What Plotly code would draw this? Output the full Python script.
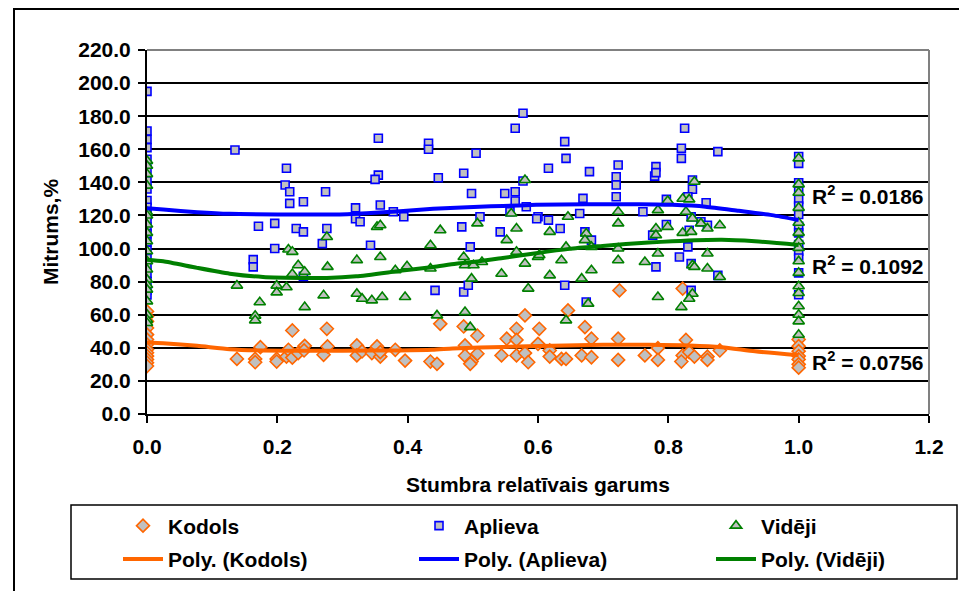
import plotly.graph_objects as go

# ---------------- data ----------------
kodols_x = [0.0]*13 + [
    .138, .166, .166, .174, .199, .199, .214, .217, .223, .223, .232, .242, .241,
    .276, .271, .277, .322, .322, .330, .345, .353, .358, .358, .381, .396, .435,
    .445, .450, .486, .488, .488, .498, .496, .507, .507, .544, .552, .567, .567,
    .567, .580, .580, .585, .600, .602, .618, .618, .636, .643, .646, .667, .672,
    .682, .682, .723, .723, .725, .764, .784, .784, .822, .827, .822, .820, .832,
    .840, .860, .860, .879] + [1.0]*7
kodols_y = [62, 59, 56, 52, 48, 45, 42, 39, 37, 35, 33, 31, 29] + [
    33.3, 33.3, 31.3, 40.4, 33.3, 31.7, 34.7, 38.8, 50.5, 34.1, 36.8, 41.2, 38.4,
    51.5, 35.8, 40.8, 41.4, 35.4, 37.8, 36.8, 40.8, 34.7, 37.4, 38.8, 32.3, 31.7,
    30.3, 54.5, 52.9, 41.4, 35.2, 31.7, 30.3, 47.3, 36.4, 35.4, 45.5, 51.5, 44.8,
    35.4, 59.6, 36.8, 31.3, 42.4, 51.5, 38.4, 34.7, 33.3, 33.3, 62.6, 35.4, 52.5,
    45.5, 34.3, 45.5, 32.7, 74.7, 35.4, 39.8, 32.7, 75.8, 44.8, 35.4, 31.7, 37.4,
    34.7, 34.7, 32.7, 38.4] + [45, 41, 38, 35, 33, 30, 28]

aplieva_x = [0.0]*22 + [
    .135, .214, .212, .219, .219, .240, .171, .196, .229, .240, .196, .163, .163,
    .240, .274, .276, .269, .355, .355, .350, .358, .320, .320, .327, .343, .378,
    .394, .432, .432, .447, .486, .498, .483, .496, .442, .486, .493, .505, .511,
    .549, .565, .565, .557, .577, .565, .577, .582, .542, .600, .598, .616, .616,
    .634, .641, .643, .641, .679, .669, .664, .672, .682, .674, .723, .720, .720,
    .720, .761, .781, .779, .781, .797, .797, .776, .781, .825, .820, .820, .837,
    .837, .830, .835, .850, .860, .832, .830, .817, .835, .835, .876, .858,
    .876] + [1.0]*14
aplieva_y = [195, 171, 166, 161, 154, 148, 141, 136, 129, 125, 120, 117, 113,
             109, 104, 99, 94, 89, 85, 80, 75, 72] + [
    159.6, 148.5, 138.4, 134.3, 127.3, 128.3, 113.5, 115.2, 112.1, 110.1, 100,
    93.3, 88.9, 83.2, 134.3, 112.1, 103, 166.7, 144.4, 141.8, 126.3, 124.6, 118,
    116.2, 102, 122.2, 119.2, 163.6, 160, 142.8, 145.5, 133.3, 113.1, 101, 74.7,
    73.7, 77.8, 157.6, 119.2, 133.3, 134.3, 128.7, 122.2, 181.8, 172.7, 140.8,
    125.3, 110.1, 119.2, 118, 117.2, 148.5, 112.1, 164.6, 154.5, 77.8, 146.5,
    130.3, 121.2, 110.1, 105.1, 67.7, 150.5, 143.4, 138.4, 131.3, 122.2, 149.5,
    143.8, 145.9, 129.7, 114.5, 108.1, 88.9, 172.7, 160.6, 154.5, 141.4, 135.8,
    131.3, 119.2, 116.2, 114.1, 111.1, 101, 94.9, 90.9, 74.7, 158.6, 127.7,
    83.8] + [155.6, 151.5, 139.8, 134.7, 129.7, 125.7, 120.6, 113.5, 109.5,
             102.4, 98.4, 94.3, 85.3, 72.1]

videji_x = [0.0]*19 + [
    .138, .173, .166, .166, .199, .199, .214, .217, .223, .232, .223, .242, .242,
    .276, .277, .271, .322, .322, .330, .345, .361, .353, .358, .358, .381, .399,
    .396, .435, .435, .450, .445, .486, .488, .501, .498, .488, .496, .507, .514,
    .544, .552, .559, .567, .567, .580, .580, .585, .600, .602, .618, .618, .636,
    .643, .646, .643, .667, .674, .672, .682, .682, .677, .723, .723, .723, .723,
    .764, .784, .781, .781, .799, .799, .784, .784, .822, .832, .827, .840, .837,
    .822, .835, .850, .860, .879, .837, .840, .860, .860, .879, .837, .832,
    .820] + [1.0]*16
videji_y = [153, 150, 145, 138, 122, 120, 114.5, 109.5, 104.4, 98.4, 92.3, 87.3,
            81.2, 78, 75.2, 68.1, 60, 57, 55] + [
    77.6, 67.5, 59.4, 56.6, 77.6, 73.5, 76.6, 99.4, 98, 89.9, 84.6, 85.9, 64.6,
    107, 88.9, 71.7, 93, 72.7, 69.7, 68.7, 70.7, 113.1, 114.1, 94.9, 86.9, 89.3,
    70.7, 102, 87.9, 111.1, 59.6, 94.9, 89.9, 89.9, 81.8, 61.6, 52.5, 115.2, 91.9,
    84.8, 105.1, 121.2, 112.1, 98, 141.4, 90.9, 75.8, 94.9, 96, 110.1, 83.8, 92.9,
    101, 119.2, 56.6, 81.8, 109.1, 105.1, 101, 86.9, 66.7, 122.2, 115.2, 100,
    92.9, 91.9, 123.2, 112.1, 108.1, 128.7, 113.1, 97, 70.7, 130.1, 129.7, 122.2,
    140.4, 118.2, 109.5, 110.1, 115.2, 112.1, 114.1, 89.9, 88.9, 97, 87.9, 82.8,
    72.7, 69.7, 64.6] + [154.5, 138.8, 133.7, 124.6, 115.6, 109.5, 104.4, 100.4,
                         92.3, 85.3, 77.2, 73.1, 65.1, 60, 56, 47.9]

# polynomial trendlines as drawn in the reference
poly_kodols_x = [0, .025, .077, .127, .178, .25, .3, .388, .438, .469, .51, .546,
                 .622, .7, .77, .832, .882, .933, 1.0]
poly_kodols_y = [43.2, 42.8, 41.2, 39.2, 38.4, 38.3, 38.3, 38.4, 38.8, 39.6, 40.2,
                 40.5, 41.3, 41.8, 41.8, 41.4, 40.4, 37.9, 35.5]
poly_aplieva_x = [0, .025, .077, .127, .25, .286, .337, .388, .439, .51, .546,
                  .597, .674, .755, .806, .857, .908, .959, 1.0]
poly_aplieva_y = [124.4, 123.6, 122, 121, 120.6, 120.6, 121.4, 122.6, 124, 125.3,
                  125.7, 126.4, 126.7, 126.8, 126.4, 125.3, 122.8, 120.2, 117.2]
poly_videji_x = [0, .025, .077, .127, .178, .25, .276, .321, .388, .439, .474,
                 .51, .546, .597, .648, .699, .735, .77, .806, .882, .933, 1.0]
poly_videji_y = [93.3, 92.3, 88.3, 84.8, 82.8, 82.2, 82.2, 83.2, 86.5, 88.9, 90.8,
                 92.3, 94.3, 97.2, 99.8, 101.6, 102.8, 103.6, 104.4, 105.3, 104.4,
                 102.2]

r2_labels = ["R<sup>2</sup> = 0.0186", "R<sup>2</sup> = 0.1092",
             "R<sup>2</sup> = 0.0756"]
r2_y = [132.3, 90.3, 32.3]

x_ticks = [0.0, 0.2, 0.4, 0.6, 0.8, 1.0, 1.2]
y_ticks = [0, 20, 40, 60, 80, 100, 120, 140, 160, 180, 200, 220]

# ---------------- styling ----------------
OFF = 8                      # default page (body) margin of the html page
W, H = 967 - OFF, 591 - OFF
ML, MR, MT, MB = 147 - OFF, 38, 50 - OFF, 177
PW, PH = W - ML - MR, H - MT - MB
FONT = "Liberation Sans, Arial, sans-serif"
FS = 21
ORANGE, BLUE, GREEN, GRAY = "#FF6600", "#0000FF", "#008000", "#C0C0C0"


def px_x(px):
    """window pixel -> paper fraction"""
    return (px - OFF - ML) / PW


def px_y(py):
    return (H - MB - (py - OFF)) / PH


fig = go.Figure()
fig.add_trace(go.Scatter(
    x=kodols_x, y=kodols_y, mode="markers", name="Kodols",
    legend="legend", legendgroup="k1",
    marker=dict(symbol="diamond", size=10, color=GRAY,
                line=dict(color=ORANGE, width=1.6))))
fig.add_trace(go.Scatter(
    x=aplieva_x, y=aplieva_y, mode="markers", name="Aplieva",
    legend="legend2", legendgroup="a1",
    marker=dict(symbol="square", size=8, color=GRAY,
                line=dict(color=BLUE, width=1.6))))
fig.add_trace(go.Scatter(
    x=videji_x, y=videji_y, mode="markers", name="Vidēji",
    legend="legend3", legendgroup="v1",
    marker=dict(symbol="triangle-up", size=10, color=GRAY,
                line=dict(color=GREEN, width=1.6))))
fig.add_trace(go.Scatter(
    x=poly_kodols_x, y=poly_kodols_y, mode="lines", name="Poly. (Kodols)",
    legend="legend", legendgroup="k2",
    line=dict(color=ORANGE, width=4, shape="spline", smoothing=0.6)))
fig.add_trace(go.Scatter(
    x=poly_aplieva_x, y=poly_aplieva_y, mode="lines", name="Poly. (Aplieva)",
    legend="legend2", legendgroup="a2",
    line=dict(color=BLUE, width=4, shape="spline", smoothing=0.6)))
fig.add_trace(go.Scatter(
    x=poly_videji_x, y=poly_videji_y, mode="lines", name="Poly. (Vidēji)",
    legend="legend3", legendgroup="v2",
    line=dict(color=GREEN, width=4, shape="spline", smoothing=0.6)))

for lab, yv in zip(r2_labels, r2_y):
    fig.add_annotation(x=1.018, y=yv, xref="x", yref="y", text=lab,
                       showarrow=False, xanchor="left", yanchor="middle",
                       font=dict(family=FONT, size=FS, color="black",
                                 weight="bold"))

shapes = [
    # plot area top and right border (gray)
    dict(type="line", xref="x domain", yref="y domain", x0=0, x1=1, y0=1, y1=1,
         line=dict(color="#808080", width=2), layer="above"),
    dict(type="line", xref="x domain", yref="y domain", x0=1, x1=1, y0=0, y1=1,
         line=dict(color="#808080", width=2), layer="above"),
    # outer chart frame
    dict(type="line", xref="paper", yref="paper", x0=px_x(14), x1=px_x(14),
         y0=px_y(9), y1=px_y(600), line=dict(color="black", width=2)),
    dict(type="line", xref="paper", yref="paper", x0=px_x(13), x1=px_x(980),
         y0=px_y(9), y1=px_y(9), line=dict(color="black", width=2)),
    # legend box
    dict(type="rect", xref="paper", yref="paper", x0=px_x(71), x1=px_x(957),
         y0=px_y(579), y1=px_y(505), line=dict(color="black", width=1.5)),
]

leg_common = dict(orientation="v", yanchor="top", xanchor="left",
                  bgcolor="rgba(0,0,0,0)", borderwidth=0, itemwidth=40,
                  traceorder="grouped", tracegroupgap=3,
                  font=dict(family=FONT, size=FS, color="black", weight="bold"))

fig.update_layout(
    width=W, height=H, autosize=False,
    margin=dict(l=ML, r=MR, t=MT, b=MB, autoexpand=False),
    paper_bgcolor="white", plot_bgcolor="white",
    font=dict(family=FONT, size=FS, color="black", weight="bold"),
    showlegend=True,
    legend=dict(x=px_x(118), y=px_y(505.5), **leg_common),
    legend2=dict(x=px_x(414), y=px_y(505.5), **leg_common),
    legend3=dict(x=px_x(711), y=px_y(505.5), **leg_common),
    shapes=shapes,
    xaxis=dict(range=[0, 1.2], tickvals=x_ticks, tickformat=".1f",
               showgrid=False, zeroline=False, showline=True,
               linecolor="black", linewidth=2, ticks="outside", ticklen=7,
               tickwidth=2, tickcolor="black", ticklabelstandoff=6,
               title=dict(text="Stumbra relatīvais garums", standoff=20,
                          font=dict(family=FONT, size=FS, weight="bold"))),
    yaxis=dict(range=[0, 220], tickvals=y_ticks, tickformat=".1f",
               showgrid=True, gridcolor="black", gridwidth=1.5,
               zeroline=False, showline=True, linecolor="black", linewidth=2,
               ticks="outside", ticklen=7, tickwidth=2, tickcolor="black",
               ticklabelstandoff=3,
               title=dict(text="Mitrums,%", standoff=14,
                          font=dict(family=FONT, size=FS, weight="bold"))),
)

fig.write_html("out.html")
